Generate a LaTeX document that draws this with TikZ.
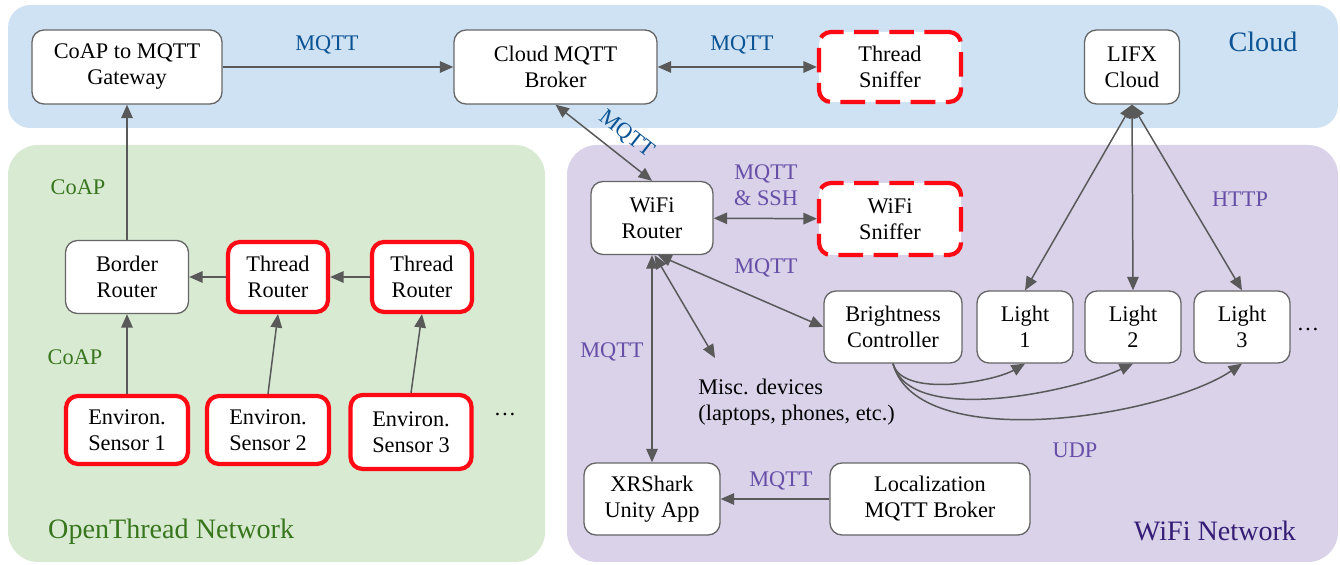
\documentclass[tikz,border=0pt]{standalone}
\usepackage{fontspec}
\setmainfont{Liberation Serif}
\usetikzlibrary{arrows.meta}

\definecolor{cloudfill}{HTML}{CFE2F3}
\definecolor{threadfill}{HTML}{D9EAD3}
\definecolor{wififill}{HTML}{D9D2E9}
\definecolor{cloudtext}{HTML}{0B5394}
\definecolor{threadtext}{HTML}{38761D}
\definecolor{wifitext}{HTML}{674EA7}
\definecolor{wifititle}{HTML}{351C75}
\definecolor{linkgray}{HTML}{595959}
\definecolor{boxgray}{HTML}{666666}
\definecolor{alertred}{HTML}{FF0A14}

\tikzset{
  box/.style={draw=boxgray, fill=white, line width=0.75pt, rounded corners=0.24cm,
    align=center, inner sep=1pt, minimum height=1.46cm},
  redbox/.style={box, draw=alertred, line width=2.4pt},
  sniffer/.style={redbox, dash pattern=on 14pt off 6pt},
  link/.style={draw=linkgray, line width=0.85pt, >={Triangle[length=2.7mm,width=2.3mm]}},
  zonetitle/.style={font=\fontsize{16}{19}\selectfont},
}

\begin{document}
\begin{tikzpicture}[font=\fontsize{12.7}{14.8}\selectfont]
        \useasboundingbox (0,0) rectangle (26.8,11.3);

        %% zones
        \fill[cloudfill, rounded corners=0.45cm] (0.16,8.74) rectangle (26.76,11.2);
        \fill[threadfill, rounded corners=0.6cm] (0.16,0.06) rectangle (10.9,8.4);
        \fill[wififill, rounded corners=0.6cm] (11.34,0.06) rectangle (26.76,8.4);

        \node[zonetitle, text=cloudtext] (cloud-title) at (25.26,10.46) {Cloud};
        \node[zonetitle, text=threadtext, anchor=west] (thread-title) at (0.84,0.66) {OpenThread Network};
        \node[zonetitle, text=wifititle] (wifi-title) at (24.3,0.68) {WiFi Network};

        %% cloud nodes
        \node[box, minimum width=3.8cm, minimum height=1.48cm] (gateway) at (2.54,9.96) {CoAP to MQTT\\Gateway};
        \node[box, minimum width=4.06cm, minimum height=1.48cm] (broker) at (11.11,9.96) {Cloud MQTT\\Broker};
        \node[sniffer, minimum width=2.84cm, minimum height=1.4cm] (tsniff) at (17.8,9.96) {Thread\\Sniffer};
        \node[box, minimum width=1.9cm, minimum height=1.48cm] (lifx) at (22.64,9.96) {LIFX\\Cloud};

        %% openthread nodes
        \node[box, minimum width=2.46cm] (border) at (2.54,5.76) {Border\\Router};
        \node[redbox, minimum width=2.0cm, minimum height=1.4cm] (trouter1) at (5.56,5.76) {Thread\\Router};
        \node[redbox, minimum width=2.0cm, minimum height=1.4cm] (trouter2) at (8.44,5.76) {Thread\\Router};

        \node[redbox, minimum width=2.44cm, minimum height=1.36cm] (sensor1) at (2.54,2.7) {Environ.\\Sensor 1};
        \node[redbox, minimum width=2.44cm, minimum height=1.36cm] (sensor2) at (5.36,2.7) {Environ.\\Sensor 2};
        \node[redbox, minimum width=2.42cm, minimum height=1.48cm] (sensor3) at (8.22,2.66) {Environ.\\Sensor 3};
        \node[inner sep=0pt] (sensor-dots) at (10.1,3.0) {\ldots};

        %% wifi nodes
        \node[box, minimum width=2.44cm] (wrouter) at (13.04,6.94) {WiFi\\Router};
        \node[sniffer, minimum width=2.84cm, minimum height=1.44cm] (wsniff) at (17.8,6.92) {WiFi\\Sniffer};
        \node[box, minimum width=2.76cm, minimum height=1.44cm] (bright) at (17.86,4.76) {Brightness\\Controller};
        \node[box, minimum width=1.92cm, minimum height=1.44cm] (light1) at (20.5,4.76) {Light\\1};
        \node[box, minimum width=1.92cm, minimum height=1.44cm] (light2) at (22.66,4.76) {Light\\2};
        \node[box, minimum width=1.92cm, minimum height=1.44cm] (light3) at (24.84,4.76) {Light\\3};
        \node[inner sep=0pt] (light-dots) at (26.16,4.7) {\ldots};
        \node[align=left, anchor=west, inner sep=0pt] (misc) at (13.96,3.26) {Misc. devices\\(laptops, phones, etc.)};
        \coordinate (misc-tip) at (14.3,4.14);
        \node[box, minimum width=2.72cm, minimum height=1.44cm] (xrshark) at (13.04,1.32) {XRShark\\Unity App};
        \node[box, minimum width=4.0cm, minimum height=1.44cm] (locbroker) at (18.6,1.32) {Localization\\MQTT Broker};

        %% protocol labels
        \node[text=cloudtext] (lbl-gw) at (6.54,10.4) {MQTT};
        \node[text=cloudtext] (lbl-sniff) at (14.84,10.4) {MQTT};
        \node[text=threadtext] (lbl-coap1) at (1.56,7.56) {CoAP};
        \node[text=threadtext] (lbl-coap2) at (1.5,4.16) {CoAP};
        \node[text=wifitext, align=center] (lbl-ssh) at (15.32,7.6) {MQTT\\\& SSH};
        \node[text=wifitext] (lbl-bright) at (15.32,5.94) {MQTT};
        \node[text=wifitext] (lbl-xr) at (12.24,4.26) {MQTT};
        \node[text=wifitext] (lbl-loc) at (15.62,1.68) {MQTT};
        \node[text=wifitext] (lbl-udp) at (21.5,2.3) {UDP};
        \node[text=wifitext] (lbl-http) at (24.8,7.32) {HTTP};

        %% connectors
        \draw[link, ->] (gateway) -- (broker);
        \draw[link, <->] (broker) -- (tsniff);
        \draw[link, ->] (border) -- (gateway);
        \draw[link, ->] (trouter1) -- (border);
        \draw[link, ->] (trouter2) -- (trouter1);
        \draw[link, ->] (sensor1) -- (border);
        \draw[link, ->] (sensor2.north) -- (trouter1.south);
        \draw[link, ->] (sensor3.north) -- (trouter2.south);

        \draw[link, <->] (broker.south) -- (wrouter.north)
            node[pos=0.6, sloped, above=5pt, inner sep=1pt, text=cloudtext] (lbl-diag) {MQTT};
        \draw[link, <->] (wrouter) -- (wsniff);
        \draw[link, <->] ([xshift=0.12cm]wrouter.south) -- (bright.west);
        \draw[link, <->] ([xshift=0.05cm]wrouter.south) -- (misc-tip);
        \draw[link, <->] (wrouter) -- (xrshark);
        \draw[link, ->] (locbroker) -- (xrshark);

        \draw[link, <->] (lifx.south) -- (light1.north);
        \draw[link, <->] (lifx.south) -- (light2.north);
        \draw[link, <->] (lifx.south) -- (light3.north);

        \draw[link, ->] (bright.south) to[out=-75, in=-150, looseness=0.7] (light1.south);
        \draw[link, ->] (bright.south) to[out=-75, in=-155, looseness=0.7] (light2.south);
        \draw[link, ->] (bright.south) to[out=-75, in=-146, looseness=0.7] (light3.south);
\end{tikzpicture}
\end{document}
